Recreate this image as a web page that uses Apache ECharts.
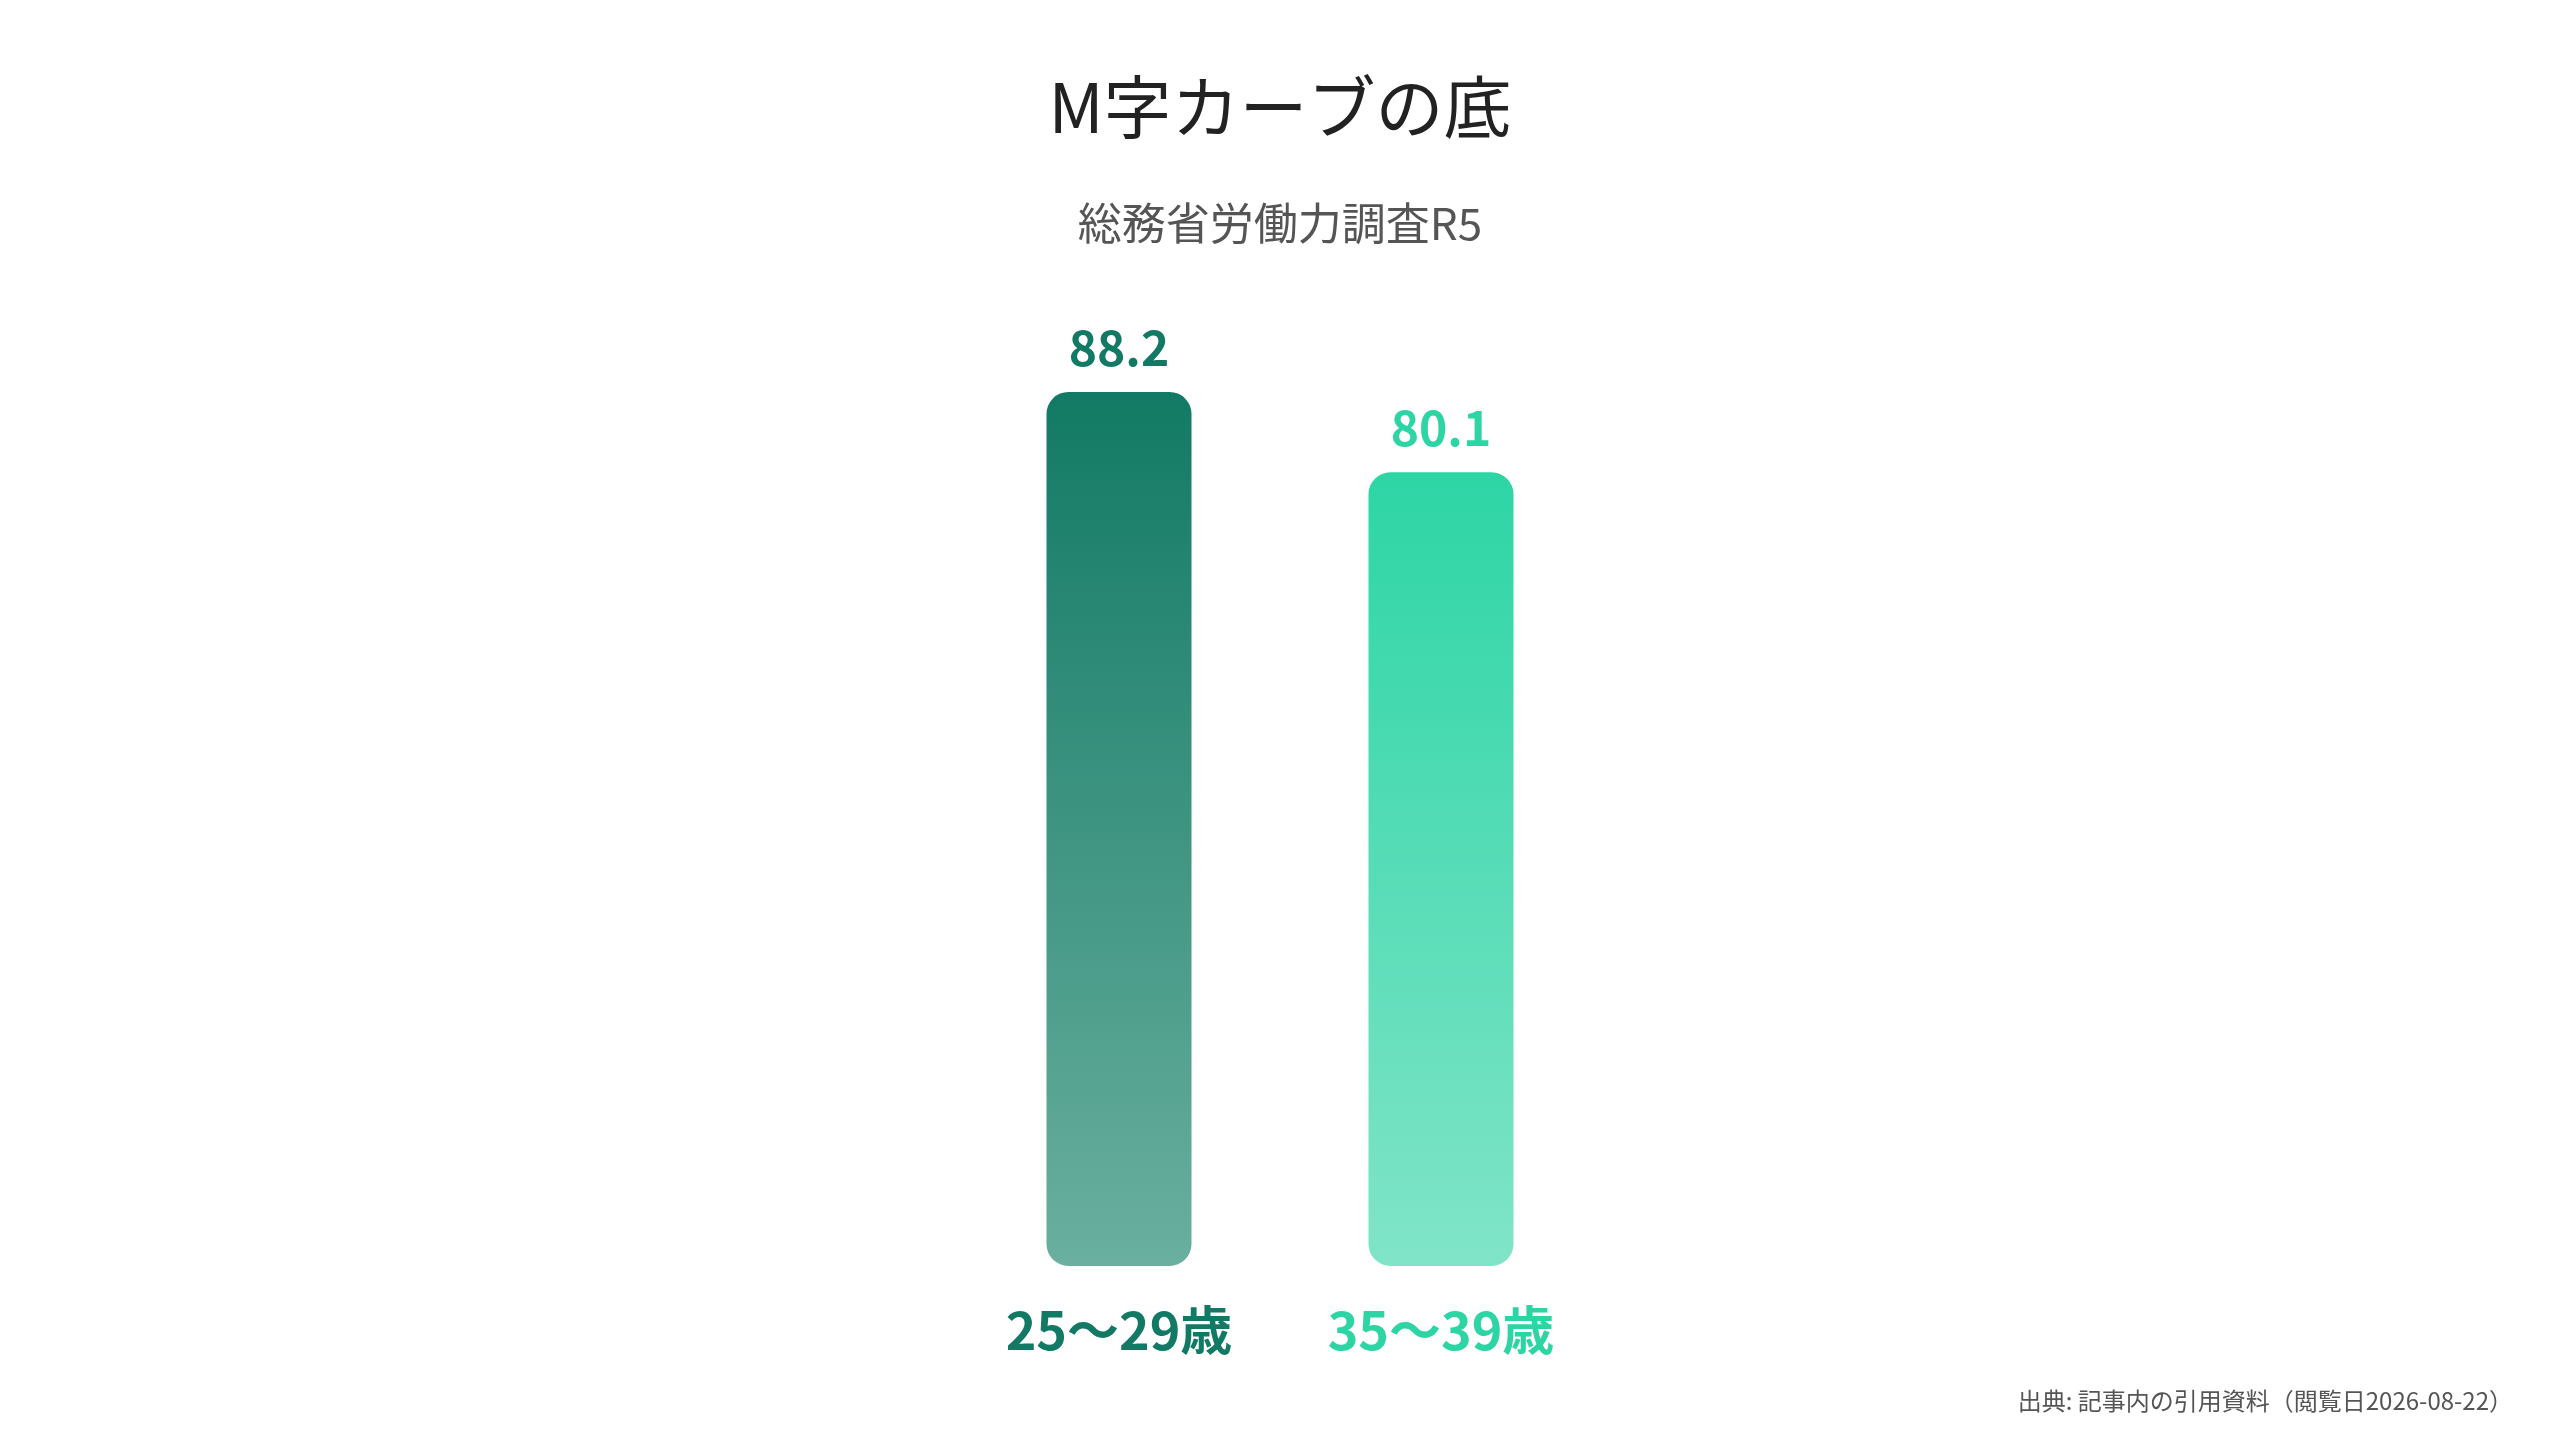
<!DOCTYPE html>
<html><head><meta charset="utf-8">
<script src="https://cdn.jsdelivr.net/npm/echarts@6/dist/echarts.min.js"></script>
<style>html,body{margin:0;padding:0;background:#fff}#c{width:2560px;height:1440px}</style>
</head><body><div id="c"></div>
<script>
const categories = ['25〜29歳', '35〜39歳'];
const values = [88.2, 80.1];
const titleText = 'M字カーブの底';
const subtitleText = '総務省労働力調査R5';
const sourceText = '出典: 記事内の引用資料（閲覧日2026-08-22）';

const topColors = ['#127A64', '#2DD5A5'];
const bottomColors = ['#6AAF9F', '#80E4C8'];
const font = '"Noto Sans CJK JP", "Noto Sans", sans-serif';

const chart = echarts.init(document.getElementById('c'));
chart.setOption({
  backgroundColor: '#fff',
  title: [
    {text: titleText, left: 'center', top: 68, textStyle: {fontFamily: font, fontSize: 68, fontWeight: 'normal', color: '#222'}},
    {text: subtitleText, left: 'center', top: 196, textStyle: {fontFamily: font, fontSize: 44, fontWeight: 'normal', color: '#555'}},
    {text: sourceText, right: 42, top: 1384, textStyle: {fontFamily: font, fontSize: 24, fontWeight: 'normal', color: '#555'}}
  ],
  grid: {left: 958, width: 644, top: 275, bottom: 174},
  xAxis: {
    type: 'category', data: categories,
    axisLine: {show: false}, axisTick: {show: false},
    axisLabel: {
      margin: 38,
      formatter: (v, i) => '{c' + i + '|' + v + '}',
      rich: {
        c0: {fontFamily: font, fontSize: 52, fontWeight: 'bold', color: topColors[0]},
        c1: {fontFamily: font, fontSize: 52, fontWeight: 'bold', color: topColors[1]}
      }
    }
  },
  yAxis: {type: 'value', min: 0, max: 100, show: false, splitLine: {show: false}},
  series: [{
    type: 'bar', barWidth: 145,
    data: values.map((v, i) => ({
      value: v,
      itemStyle: {
        borderRadius: 22,
        color: new echarts.graphic.LinearGradient(0, 0, 0, 1, [
          {offset: 0, color: topColors[i]}, {offset: 1, color: bottomColors[i]}
        ])
      },
      label: {color: topColors[i]}
    })),
    label: {show: true, position: 'top', distance: 20, fontFamily: font, fontSize: 48, fontWeight: 'bold',
      formatter: p => p.value.toFixed(1)}
  }]
});
</script></body></html>
